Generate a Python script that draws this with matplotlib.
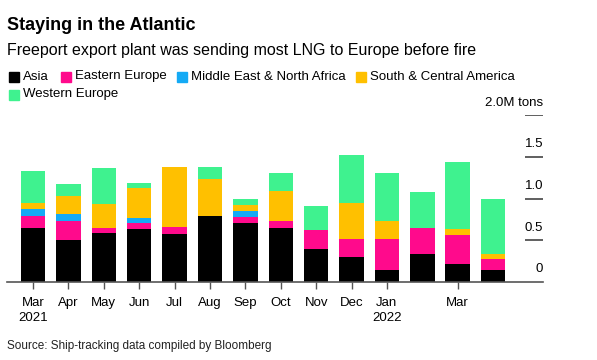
import matplotlib
matplotlib.use("Agg")
import matplotlib.pyplot as plt
import numpy as np

plt.rcParams['font.family'] = ['Liberation Sans', 'DejaVu Sans']

months = ['Mar 2021', 'Apr 2021', 'May 2021', 'Jun 2021', 'Jul 2021', 'Aug 2021',
          'Sep 2021', 'Oct 2021', 'Nov 2021', 'Dec 2021', 'Jan 2022', 'Feb 2022',
          'Mar 2022', 'Apr 2022']
tick_labels = ['Mar\n2021', 'Apr', 'May', 'Jun', 'Jul', 'Aug', 'Sep', 'Oct',
               'Nov', 'Dec', 'Jan\n2022', '', 'Mar', '']

# million tons
asia = [0.65, 0.50, 0.59, 0.64, 0.58, 0.79, 0.71, 0.65, 0.40, 0.30, 0.14, 0.34, 0.21, 0.14]
eastern_europe = [0.14, 0.23, 0.06, 0.07, 0.08, 0.0, 0.07, 0.08, 0.22, 0.21, 0.37, 0.31, 0.35, 0.14]
mena = [0.08, 0.08, 0.0, 0.06, 0.0, 0.0, 0.07, 0.0, 0.0, 0.0, 0.0, 0.0, 0.0, 0.0]
south_central_america = [0.08, 0.22, 0.28, 0.36, 0.72, 0.44, 0.07, 0.36, 0.0, 0.44, 0.22, 0.0, 0.07, 0.06]
western_europe = [0.38, 0.14, 0.43, 0.06, 0.0, 0.15, 0.08, 0.22, 0.29, 0.57, 0.58, 0.43, 0.81, 0.66]

series = [('Asia', asia, '#000000'),
          ('Eastern Europe', eastern_europe, '#ff0a8c'),
          ('Middle East & North Africa', mena, '#14aaf5'),
          ('South & Central America', south_central_america, '#ffc000'),
          ('Western Europe', western_europe, '#3ff28f')]

W, H = 597, 360
fig = plt.figure(figsize=(W / 100, H / 100), dpi=100)
ax = fig.add_axes([7 / W, (H - 282) / H, (543 - 7) / W, (282 - 115) / H])

x = np.arange(len(months))
bottom = np.zeros(len(months))
for name, vals, col in series:
    vals = np.array(vals)
    ax.bar(x, vals, 0.69, bottom=bottom, color=col, linewidth=0)
    bottom += vals

ax.set_xlim(-0.734, 14.41)
ax.set_ylim(0, 2.0)

for s in ['top', 'right', 'left']:
    ax.spines[s].set_visible(False)
ax.spines['bottom'].set_color('#555555')
ax.spines['bottom'].set_linewidth(1.2)
ax.set_yticks([])

tick_pos = [i for i, t in enumerate(tick_labels) if t]
ax.set_xticks(tick_pos)
ax.set_xticklabels([tick_labels[i] for i in tick_pos], fontsize=9.5, linespacing=1.3)
ax.tick_params(axis='x', length=5, width=1, color='#555555', pad=6)

# right-side value markers
ylevels = [0, 0.5, 1.0, 1.5, 2.0]
ylabels = ['0', '0.5', '1.0', '1.5', '2.0M tons']
for yv, lab in zip(ylevels, ylabels):
    if yv > 0:
        ax.hlines(yv, 13.9, 14.41, color='#444444', linewidth=1.2)
    ax.annotate(lab, (14.41, yv), xytext=(0, 9), textcoords='offset points',
                ha='right', va='center', fontsize=9.5, annotation_clip=False)

fig.text(7 / W, 1 - 25 / H, 'Staying in the Atlantic', fontsize=13, fontweight='bold', va='center')
fig.text(7 / W, 1 - 50 / H, 'Freeport export plant was sending most LNG to Europe before fire',
         fontsize=11.5, va='center')

legend_items = [(9, 76.5), (61, 76.5), (177, 76.5), (356, 76.5), (9, 94.5)]
for (name, vals, col), (lx, ly) in zip(series, legend_items):
    fig.patches.append(plt.Rectangle((lx / W, 1 - (ly + 5) / H), 10 / W, 10 / H,
                                     transform=fig.transFigure, color=col, figure=fig))
    fig.text((lx + 14) / W, 1 - ly / H, name, fontsize=9.5, va='center')

fig.text(7 / W, 1 - 346 / H, 'Source: Ship-tracking data compiled by Bloomberg', fontsize=8.5,
         va='center', color='#222222')

fig.savefig('out.png', dpi=100)
